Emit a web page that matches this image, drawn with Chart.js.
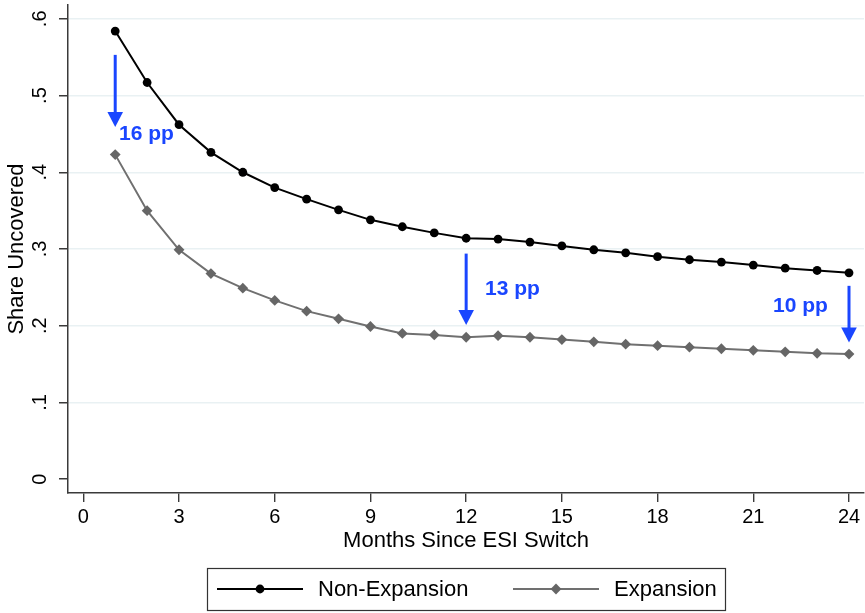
<!DOCTYPE html>
<html>
<head>
<meta charset="utf-8">
<script src="https://cdn.jsdelivr.net/npm/chart.js@4.4.1/dist/chart.umd.min.js"></script>
<style>
  html, body { margin: 0; padding: 0; background: #fff; }
  canvas { display: block; }
</style>
</head>
<body>
<canvas id="canvas" width="865" height="613"></canvas>
<script>
const months = [1, 2, 3, 4, 5, 6, 7, 8, 9, 10, 11, 12, 13, 14, 15, 16, 17, 18, 19, 20, 21, 22, 23, 24];
const nonExpansion = [0.584, 0.517, 0.462, 0.426, 0.400, 0.380, 0.365, 0.351, 0.338, 0.329, 0.321, 0.314,
                      0.313, 0.309, 0.304, 0.299, 0.295, 0.290, 0.286, 0.283, 0.279, 0.275, 0.272, 0.269];
const expansion = [0.423, 0.350, 0.299, 0.268, 0.249, 0.233, 0.219, 0.209, 0.199, 0.190, 0.188, 0.185,
                   0.187, 0.185, 0.182, 0.179, 0.176, 0.174, 0.172, 0.170, 0.168, 0.166, 0.164, 0.163];
const xTicks = [0, 3, 6, 9, 12, 15, 18, 21, 24];
const yTicks = [0, 0.1, 0.2, 0.3, 0.4, 0.5, 0.6];

// gap arrows (month, from, to) and their labels
const arrowMonths = [1, 12, 24];
const arrowFrom = [0.553, 0.294, 0.252];
const arrowTo = [0.459, 0.201, 0.178];
const arrowLabels = ['16 pp', '13 pp', '10 pp'];
const labelX = [1.12, 12.59, 23.34];
const labelY = [0.450, 0.248, 0.226];
const labelAlign = ['left', 'left', 'right'];

const FONT = '"Liberation Sans", Arial, Helvetica, sans-serif';
const BLUE = '#1a46ff';
const AXIS = '#3a3a3a';

function toPoints(ys) {
    return months.map((m, i) => ({ x: m, y: ys[i] }));
}

const arrowPlugin = {
    id: 'arrows',
    afterDatasetsDraw(chart) {
        const ctx = chart.ctx;
        const xs = chart.scales.x, ys = chart.scales.y;
        ctx.save();
        ctx.fillStyle = BLUE;
        ctx.strokeStyle = BLUE;
        for (let i = 0; i < arrowMonths.length; i++) {
            const x = xs.getPixelForValue(arrowMonths[i]);
            const y0 = ys.getPixelForValue(arrowFrom[i]);
            const y1 = ys.getPixelForValue(arrowTo[i]);
            const head = 15;
            ctx.lineWidth = 3;
            ctx.beginPath();
            ctx.moveTo(x, y0);
            ctx.lineTo(x, y1 - head + 1);
            ctx.stroke();
            ctx.beginPath();
            ctx.moveTo(x - 7.8, y1 - head);
            ctx.lineTo(x + 7.8, y1 - head);
            ctx.lineTo(x, y1);
            ctx.closePath();
            ctx.fill();

            ctx.font = 'bold 21px ' + FONT;
            ctx.textAlign = labelAlign[i];
            ctx.textBaseline = 'middle';
            ctx.fillText(arrowLabels[i], xs.getPixelForValue(labelX[i]), ys.getPixelForValue(labelY[i]));
        }
        ctx.restore();
    }
};

const legendPlugin = {
    id: 'stataLegend',
    afterDraw(chart) {
        const ctx = chart.ctx;
        const sets = chart.data.datasets;
        ctx.save();
        ctx.strokeStyle = '#333';
        ctx.lineWidth = 1.2;
        ctx.strokeRect(207.5, 568.5, 518, 42);
        const cy = 589;
        const starts = [217, 513];
        const textStarts = [318, 614];
        sets.forEach((ds, i) => {
            const x0 = starts[i];
            ctx.strokeStyle = ds.borderColor;
            ctx.lineWidth = ds.borderWidth;
            ctx.beginPath();
            ctx.moveTo(x0, cy);
            ctx.lineTo(x0 + 86, cy);
            ctx.stroke();
            ctx.fillStyle = ds.pointBackgroundColor;
            const mx = x0 + 43;
            ctx.beginPath();
            if (ds.pointStyle === 'rectRot') {
                const r = ds.pointRadius;
                ctx.moveTo(mx - r, cy);
                ctx.lineTo(mx, cy - r);
                ctx.lineTo(mx + r, cy);
                ctx.lineTo(mx, cy + r);
                ctx.closePath();
            } else {
                ctx.arc(mx, cy, ds.pointRadius, 0, Math.PI * 2);
            }
            ctx.fill();
            ctx.fillStyle = '#000';
            ctx.font = '22px ' + FONT;
            ctx.textAlign = 'left';
            ctx.textBaseline = 'middle';
            ctx.fillText(ds.label, textStarts[i], cy + 1);
        });
        ctx.restore();
    }
};

const chart = new Chart(document.getElementById('canvas').getContext('2d'), {
    type: 'line',
    data: {
        datasets: [
            {
                label: 'Non-Expansion',
                data: toPoints(nonExpansion),
                borderColor: '#000000',
                borderWidth: 2,
                pointStyle: 'circle',
                pointRadius: 4.4,
                pointBackgroundColor: '#000000',
                pointBorderWidth: 0,
                tension: 0
            },
            {
                label: 'Expansion',
                data: toPoints(expansion),
                borderColor: '#707070',
                borderWidth: 2,
                pointStyle: 'rectRot',
                pointRadius: 5.4,
                pointBackgroundColor: '#666666',
                pointBorderWidth: 0,
                tension: 0
            }
        ]
    },
    options: {
        responsive: false,
        animation: false,
        layout: { autoPadding: false, padding: { top: 5, right: 1, left: 0, bottom: 0 } },
        plugins: {
            legend: { display: false },
            tooltip: { enabled: false }
        },
        scales: {
            x: {
                type: 'linear',
                min: -0.48,
                max: 24.47,
                afterBuildTicks: (scale) => { scale.ticks = xTicks.map(v => ({ value: v })); },
                afterFit: (scale) => {
                    scale.height = 120;
                    scale.paddingLeft = 0;
                    scale.paddingRight = 0;
                },
                ticks: {
                    color: '#000',
                    font: { family: FONT, size: 20 },
                    padding: 3,
                    maxRotation: 0,
                    autoSkip: false,
                    callback: (v) => String(v)
                },
                grid: {
                    drawOnChartArea: false,
                    color: AXIS,
                    tickColor: AXIS,
                    tickLength: 9,
                    lineWidth: 1.4
                },
                border: { display: true, color: AXIS, width: 1.5 },
                title: {
                    display: true,
                    text: 'Months Since ESI Switch',
                    color: '#000',
                    font: { family: FONT, size: 22 },
                    padding: { top: 0, bottom: 59 }
                }
            },
            y: {
                type: 'linear',
                min: -0.018,
                max: 0.618,
                afterBuildTicks: (scale) => { scale.ticks = yTicks.map(v => ({ value: v })); },
                afterFit: (scale) => {
                    scale.width = 68;
                    scale.paddingTop = 0;
                    scale.paddingBottom = 0;
                },
                ticks: {
                    color: '#000',
                    font: { family: FONT, size: 20 },
                    padding: 10,
                    minRotation: 90,
                    maxRotation: 90,
                    crossAlign: 'center',
                    autoSkip: false,
                    callback: (v) => v === 0 ? '0' : v.toFixed(1).replace(/^0/, '')
                },
                grid: {
                    color: (c) => (c.tick && c.tick.value === 0) ? 'rgba(0,0,0,0)' : '#e9f1f3',
                    tickColor: AXIS,
                    tickLength: 9,
                    lineWidth: 1.5
                },
                border: { display: true, color: AXIS, width: 1.5 },
                title: {
                    display: true,
                    text: 'Share Uncovered',
                    color: '#000',
                    font: { family: FONT, size: 22 },
                    padding: { top: 4, bottom: 0 }
                }
            }
        }
    },
    plugins: [arrowPlugin, legendPlugin]
});
</script>
</body>
</html>
